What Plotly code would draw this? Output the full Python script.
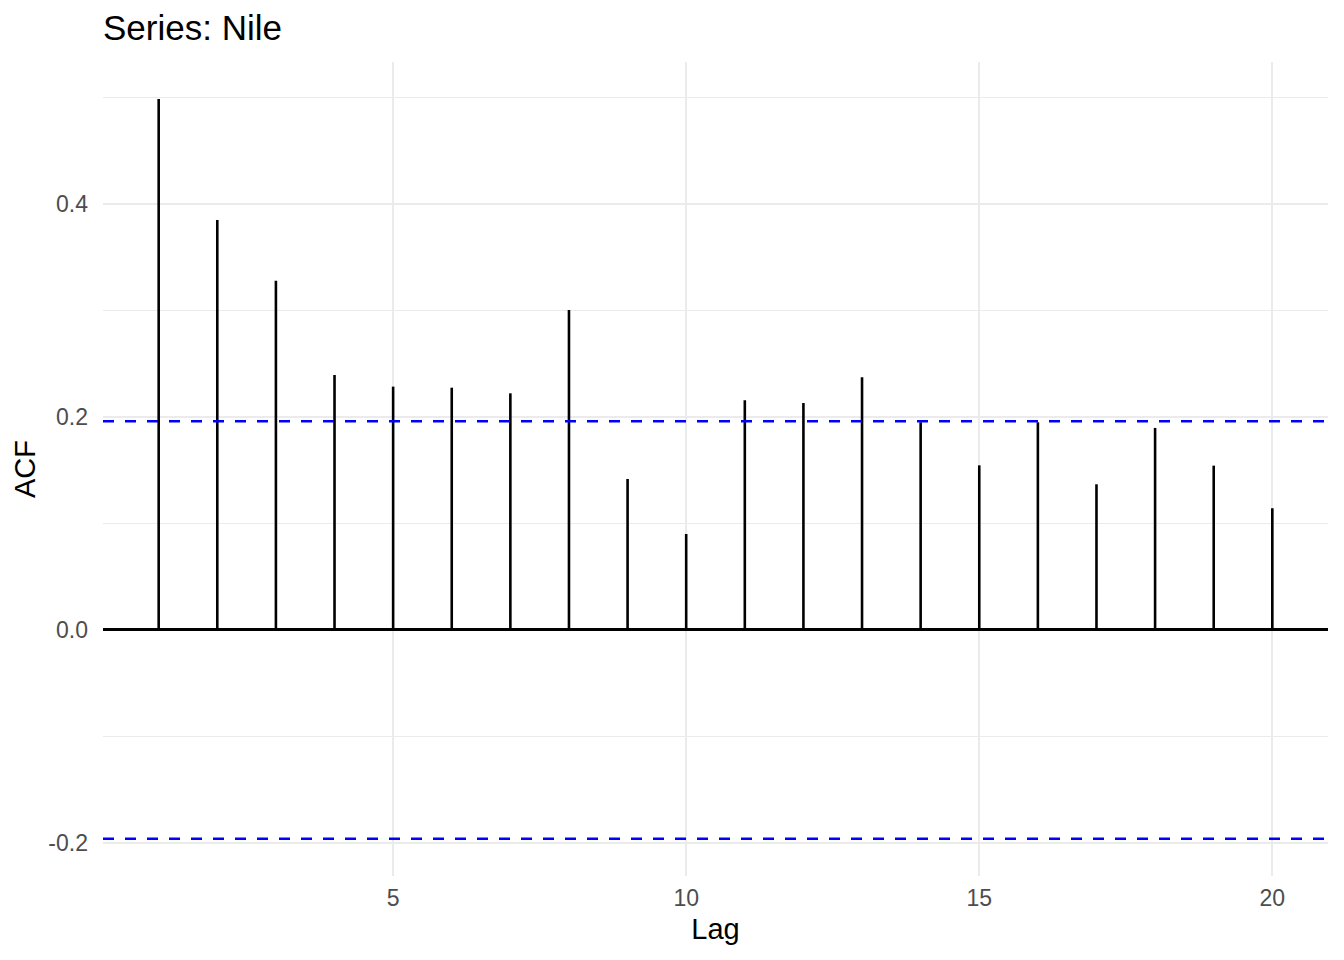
import plotly.graph_objects as go

# ACF of the Nile series, lags 1..20
lags = list(range(1, 21))
acf_vals = [0.4986, 0.385, 0.328, 0.2394, 0.2285, 0.2275, 0.2222, 0.3005, 0.1418, 0.0901,
            0.2157, 0.2131, 0.2373, 0.195, 0.1546, 0.195, 0.1368, 0.1897, 0.1543, 0.1143]
ci = 0.196  # 95% bound, +/-

x_ticks = [5, 10, 15, 20]
y_ticks = [-0.2, 0.0, 0.2, 0.4]
y_tick_text = ["-0.2", "0.0", "0.2", "0.4"]

FONT = "Liberation Sans, Arial, sans-serif"
GRID = "#EBEBEB"

# stems as one trace, segments split by None
sx, sy = [], []
for lag, v in zip(lags, acf_vals):
    sx += [lag, lag, None]
    sy += [0, v, None]

fig = go.Figure()
fig.add_trace(go.Scatter(x=sx, y=sy, mode="lines",
                         line=dict(color="black", width=2.6),
                         hoverinfo="skip", showlegend=False))

# confidence bounds
for b in (ci, -ci):
    fig.add_shape(type="line", xref="paper", x0=0, x1=1, yref="y", y0=b, y1=b,
                  line=dict(color="#0000FF", width=2.4, dash="11px,11px"), layer="above")

# page body has an 8px margin, so the figure is a bit smaller than the window
fig.update_layout(
    width=1336, height=952,
    margin=dict(l=95, r=16, t=54, b=84),
    plot_bgcolor="white", paper_bgcolor="white",
    font=dict(family=FONT, color="black"),
    title=dict(text="Series: Nile", font=dict(size=35, color="black"),
               xref="paper", x=0, xanchor="left",
               yref="container", y=1 - 20 / 952, yanchor="middle"),
    showlegend=False,
)

fig.update_xaxes(
    range=[0.05, 20.95], tickvals=x_ticks, ticks="",
    showgrid=True, gridcolor=GRID, gridwidth=2.4,
    zeroline=False, showline=False,
    tickfont=dict(size=23, color="#4D4D4D"), ticklabelstandoff=6,
    title=dict(text="Lag", font=dict(size=29, color="black"), standoff=8),
    automargin=True,
)
fig.update_yaxes(
    range=[-0.231, 0.5333], tickvals=y_ticks, ticktext=y_tick_text, ticks="",
    showgrid=True, gridcolor=GRID, gridwidth=2.4,
    minor=dict(dtick=0.1, tick0=0, showgrid=True, gridcolor=GRID, gridwidth=1.2),
    zeroline=True, zerolinecolor="black", zerolinewidth=2.6,
    showline=False,
    tickfont=dict(size=23, color="#4D4D4D"), ticklabelstandoff=14,
    title=dict(text="ACF", font=dict(size=29, color="black"), standoff=4),
    automargin=True,
)

fig.write_html("out.html")
